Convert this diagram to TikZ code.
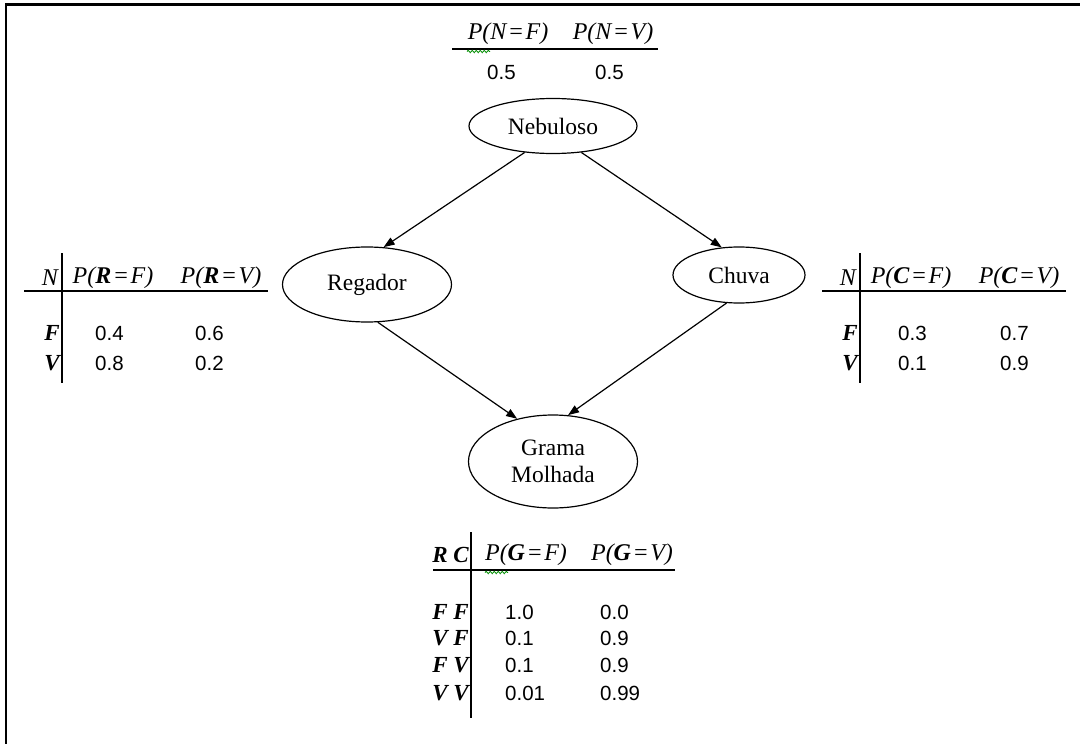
\documentclass[tikz,border=0pt]{standalone}
\usepackage{fontspec}
\setmainfont{Liberation Serif}
\newfontfamily\numfont{Liberation Sans}
\usetikzlibrary{shapes.geometric,arrows.meta,decorations.pathmorphing}
\newcommand{\eqk}{\kern1.5pt=\kern1.5pt}
\begin{document}
\begin{tikzpicture}[x=1pt,y=-1pt,
 bnode/.style={draw, ellipse, line width=1.2pt, inner sep=0pt, font=\fontsize{23.5}{27}\selectfont, align=center},
 hdr/.style={inner sep=0pt, font=\fontsize{24}{26}\selectfont\itshape},
 lbl/.style={inner sep=0pt, anchor=east, font=\fontsize{23}{26}\selectfont\bfseries\itshape},
 num/.style={inner sep=0pt, anchor=west, font=\fontsize{20.5}{23}\selectfont\numfont},
 rule/.style={line width=1.5pt},
 squig/.style={draw=green!55!black, line width=0.8pt, decorate, decoration={snake, amplitude=1.2pt, segment length=4pt}},
 edge/.style={line width=1.2pt, -{Triangle[length=11pt,width=8pt]}}
]
\useasboundingbox (0,0) rectangle (1080,744);
\draw[line width=2.5pt] (6,744) -- (6,4.5) -- (1080,4.5);

% top table
\node[hdr] (tnf) at (508,34) {P(N\eqk F)};
\node[hdr] (tnv) at (613,34) {P(N\eqk V)};
\draw[rule] (452,49) -- (658,49);
\draw[squig] (467,51.5) -- (490,51.5);
\node[num] (tn1) at (487,72) {0.5};
\node[num] (tn2) at (595,72) {0.5};

% nodes
\node[bnode, minimum width=168pt, minimum height=55pt] (neb) at (553,126) {Nebuloso};
\node[bnode, minimum width=169pt, minimum height=75pt] (reg) at (367,284.5) {Regador};
\node[bnode, minimum width=132pt, minimum height=56pt] (chu) at (739,275) {Chuva};
\node[bnode, minimum width=169pt, minimum height=93pt] (gra) at (553,461.5) {Grama\\Molhada};

\draw[edge] (neb.223) -- (reg.66);
\draw[edge] (neb.317) -- (chu.122);
\draw[edge] (reg.286) -- (gra.130);
\draw[edge] (chu.246) -- (gra.72);

% left table
\node[hdr, anchor=east] (ln) at (58,278) {N};
\node[hdr] (lrf) at (113,278) {P(\textbf{R}\eqk F)};
\node[hdr] (lrv) at (221,278) {P(\textbf{R}\eqk V)};
\draw[rule] (24,291) -- (268,291);
\draw[rule] (62,253) -- (62,383);
\node[lbl] (lf) at (60,333) {F};
\node[lbl] (lv) at (60,363) {V};
\node[num] (l11) at (95,333) {0.4};
\node[num] (l12) at (195,333) {0.6};
\node[num] (l21) at (95,363) {0.8};
\node[num] (l22) at (195,363) {0.2};

% right table
\node[hdr, anchor=east] (rn) at (856,278) {N};
\node[hdr] (rcf) at (911,278) {P(\textbf{C}\eqk F)};
\node[hdr] (rcv) at (1019,278) {P(\textbf{C}\eqk V)};
\draw[rule] (822,291) -- (1066,291);
\draw[rule] (860,253) -- (860,383);
\node[lbl] (rf) at (858,333) {F};
\node[lbl] (rv) at (858,363) {V};
\node[num] (r11) at (898,333) {0.3};
\node[num] (r12) at (1000,333) {0.7};
\node[num] (r21) at (898,363) {0.1};
\node[num] (r22) at (1000,363) {0.9};

% bottom table
\node[lbl] (brc) at (469,555) {R C};
\node[hdr] (bgf) at (526,555) {P(\textbf{G}\eqk F)};
\node[hdr] (bgv) at (632,555) {P(\textbf{G}\eqk V)};
\draw[rule] (433,570) -- (675,570);
\draw[rule] (471,532) -- (471,718);
\draw[squig] (485,572.5) -- (508,572.5);
\node[lbl] (bff) at (469,612) {F F};
\node[lbl] (bvf) at (469,638) {V F};
\node[lbl] (bfv) at (469,665) {F V};
\node[lbl] (bvv) at (469,693) {V V};
\node[num] (b11) at (505,612) {1.0};
\node[num] (b12) at (600,612) {0.0};
\node[num] (b21) at (505,638) {0.1};
\node[num] (b22) at (600,638) {0.9};
\node[num] (b31) at (505,665) {0.1};
\node[num] (b32) at (600,665) {0.9};
\node[num] (b41) at (505,693) {0.01};
\node[num] (b42) at (600,693) {0.99};
\end{tikzpicture}
\end{document}
